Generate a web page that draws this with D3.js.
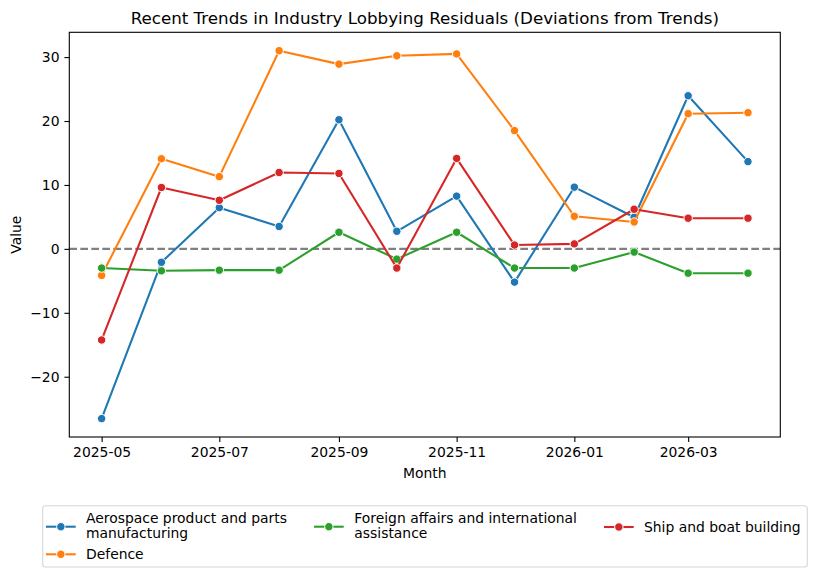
<!DOCTYPE html>
<html>
<head>
<meta charset="utf-8">
<script src="https://cdn.jsdelivr.net/npm/d3@7"></script>
<style>
  body { margin: 0; background: #fff; }
  text { font-family: "DejaVu Sans", sans-serif; fill: #000; }
</style>
</head>
<body>
<script>
var months = ["2025-05", "2025-06", "2025-07", "2025-08", "2025-09", "2025-10",
              "2025-11", "2025-12", "2026-01", "2026-02", "2026-03", "2026-04"];

var aerospace = [-26.55, -2.1, 6.45, 3.5, 20.2, 2.75, 8.25, -5.2, 9.65, 4.95, 23.95, 13.65];
var defence   = [-4.15, 14.1, 11.3, 31.0, 28.9, 30.2, 30.5, 18.5, 5.1, 4.2, 21.15, 21.3];
var foreign   = [-3.0, -3.43, -3.33, -3.33, 2.6, -1.6, 2.6, -3.0, -3.0, -0.5, -3.8, -3.8];
var ship      = [-14.25, 9.6, 7.6, 11.95, 11.8, -3.0, 14.15, 0.6, 0.78, 6.2, 4.8, 4.8];

var seriesNames = ["Aerospace product and parts manufacturing", "Defence",
                   "Foreign affairs and international assistance", "Ship and boat building"];
var colors = ["#1f77b4", "#ff7f0e", "#2ca02c", "#d62728"];
var yTicks = [-20, -10, 0, 10, 20, 30];

var W = 816, H = 577;
var pLeft = 69.3, pRight = 780.3, pTop = 32.3, pBottom = 437;

var parse = d3.utcParse("%Y-%m");
var dates = months.map(parse);
var allSeries = [aerospace, defence, foreign, ship];

var svg = d3.select("body").append("svg").attr("width", W).attr("height", H);

// x domain with 5% padding like matplotlib
var dExt = d3.extent(dates);
var span = dExt[1] - dExt[0];
var x = d3.scaleUtc()
    .domain([new Date(+dExt[0] - span * 0.05), new Date(+dExt[1] + span * 0.05)])
    .range([pLeft, pRight]);

var allVals = [].concat.apply([], allSeries);
var vMin = d3.min(allVals), vMax = d3.max(allVals), vSpan = vMax - vMin;
var y = d3.scaleLinear()
    .domain([vMin - vSpan * 0.05, vMax + vSpan * 0.05])
    .range([pBottom, pTop]);

// zero line
svg.append("line")
    .attr("x1", pLeft).attr("x2", pRight)
    .attr("y1", y(0)).attr("y2", y(0))
    .attr("stroke", "#808080").attr("stroke-width", 2.08)
    .attr("stroke-dasharray", "7.7,3.3");

var line = d3.line()
    .x(function(d, i) { return x(dates[i]); })
    .y(function(d) { return y(d); });

allSeries.forEach(function(s, k) {
    var g = svg.append("g");
    g.append("path").datum(s)
        .attr("d", line)
        .attr("fill", "none")
        .attr("stroke", colors[k])
        .attr("stroke-width", 2.08)
        .attr("stroke-linejoin", "round")
        .attr("stroke-linecap", "round");
    g.selectAll("circle").data(s).enter().append("circle")
        .attr("cx", function(d, i) { return x(dates[i]); })
        .attr("cy", function(d) { return y(d); })
        .attr("r", 4.2)
        .attr("fill", colors[k])
        .attr("stroke", "#fff")
        .attr("stroke-width", 1);
});

// axes
var xAxis = d3.axisBottom(x)
    .ticks(d3.utcMonth.every(2))
    .tickFormat(d3.utcFormat("%Y-%m"))
    .tickSizeOuter(0).tickSize(4.9).tickPadding(4.9);
var gx = svg.append("g").attr("transform", "translate(0," + pBottom + ")").call(xAxis);

var yAxis = d3.axisLeft(y)
    .tickValues(yTicks)
    .tickFormat(function(d) { return d < 0 ? "\u2212" + Math.abs(d) : d; })
    .tickSizeOuter(0).tickSize(4.9).tickPadding(4.9);
var gy = svg.append("g").attr("transform", "translate(" + pLeft + ",0)").call(yAxis);

[gx, gy].forEach(function(g) {
    g.select(".domain").remove();
    g.selectAll(".tick line").attr("stroke", "#000").attr("stroke-width", 1.1);
    g.selectAll(".tick text").attr("font-size", "13.9px").attr("font-family", "DejaVu Sans").attr("fill", "#000");
});

// frame
svg.append("rect")
    .attr("x", pLeft).attr("y", pTop)
    .attr("width", pRight - pLeft).attr("height", pBottom - pTop)
    .attr("fill", "none").attr("stroke", "#000").attr("stroke-width", 1.1);

// title and labels
svg.append("text").attr("x", (pLeft + pRight) / 2).attr("y", 24)
    .attr("text-anchor", "middle").attr("font-size", "16.7px")
    .text("Recent Trends in Industry Lobbying Residuals (Deviations from Trends)");
svg.append("text").attr("x", (pLeft + pRight) / 2).attr("y", 478)
    .attr("text-anchor", "middle").attr("font-size", "13.9px").text("Month");
svg.append("text")
    .attr("transform", "translate(21," + ((pTop + pBottom) / 2) + ") rotate(-90)")
    .attr("text-anchor", "middle").attr("font-size", "13.9px").text("Value");

// legend
var leg = svg.append("g");
leg.append("rect")
    .attr("x", 42.7).attr("y", 505.7).attr("width", 764.6).attr("height", 61.3)
    .attr("rx", 3).attr("fill", "#fff").attr("stroke", "#d6d6d6").attr("stroke-width", 1.1);

var legendItems = [
    { lines: ["Aerospace product and parts", "manufacturing"], hx: 46, tx: 86, cy: 525 },
    { lines: ["Defence"], hx: 46, tx: 86, cy: 554.3 },
    { lines: ["Foreign affairs and international", "assistance"], hx: 314, tx: 354.3, cy: 525 },
    { lines: ["Ship and boat building"], hx: 604, tx: 644, cy: 527 }
];
legendItems.forEach(function(it, k) {
    var hy = it.lines.length > 1 ? 526.7 : it.cy;
    leg.append("line").attr("x1", it.hx).attr("x2", it.hx + 29.7)
        .attr("y1", hy).attr("y2", hy)
        .attr("stroke", colors[k]).attr("stroke-width", 2.08);
    leg.append("circle").attr("cx", it.hx + 14.85).attr("cy", hy).attr("r", 4.2)
        .attr("fill", colors[k]).attr("stroke", "#fff").attr("stroke-width", 1);
    var t = leg.append("text").attr("x", it.tx).attr("font-size", "13.9px");
    if (it.lines.length > 1) {
        t.append("tspan").attr("x", it.tx).attr("y", 522.5).text(it.lines[0]);
        t.append("tspan").attr("x", it.tx).attr("y", 537.5).text(it.lines[1]);
    } else {
        t.attr("y", it.cy + 5).text(it.lines[0]);
    }
});
</script>
</body>
</html>
